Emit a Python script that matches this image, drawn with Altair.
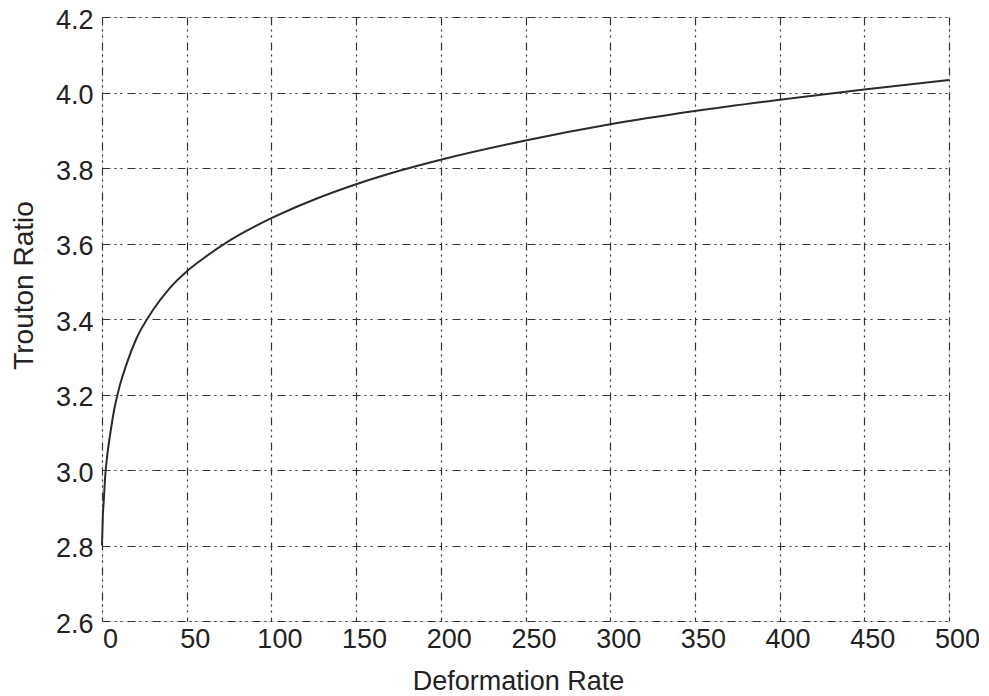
import altair as alt
import pandas as pd

rate = [0, 0.5, 1, 2, 3, 5, 7, 10, 15, 20, 30, 40, 50, 60, 75,
        100, 125, 150, 175, 200, 250, 300, 350, 400, 450, 500]
ratio = [2.80, 2.88, 2.915, 2.99, 3.035, 3.10, 3.155, 3.215, 3.287, 3.345,
         3.423, 3.482, 3.526, 3.561, 3.607, 3.667, 3.716, 3.757, 3.792,
         3.822, 3.873, 3.916, 3.951, 3.981, 4.008, 4.033]
x_ticks = [0, 50, 100, 150, 200, 250, 300, 350, 400, 450, 500]
y_ticks = [2.6, 2.8, 3.0, 3.2, 3.4, 3.6, 3.8, 4.0, 4.2]

df = pd.DataFrame({"rate": rate, "ratio": ratio})

dash = [8, 4, 2, 4, 2, 5]
font = "Liberation Sans"

chart = alt.Chart(df).mark_line(
    color="#2b2b2b", strokeWidth=2, interpolate="monotone"
).encode(
    x=alt.X("rate:Q", scale=alt.Scale(domain=[0, 500], nice=False),
            axis=alt.Axis(values=x_ticks, title="Deformation Rate",
                          grid=True, gridDash=dash, gridColor="#333333",
                          gridOpacity=1, gridWidth=1.2,
                          ticks=False, domain=False,
                          labelFont=font, labelFontSize=27, labelColor="#222222",
                          labelPadding=5, labelFlush=False, labelOffset=8,
                          titleFont=font, titleFontSize=27, titleFontWeight="normal",
                          titleColor="#222222", titlePadding=16, titleX=416)),
    y=alt.Y("ratio:Q", scale=alt.Scale(domain=[2.6, 4.2], nice=False, zero=False),
            axis=alt.Axis(values=y_ticks, format=".1f", title="Trouton Ratio",
                          grid=True, gridDash=dash, gridColor="#333333",
                          gridOpacity=1, gridWidth=1.2,
                          ticks=False, domain=False,
                          labelFont=font, labelFontSize=27, labelColor="#222222",
                          labelPadding=9, labelOffset=3,
                          titleFont=font, titleFontSize=28, titleFontWeight="normal",
                          titleColor="#222222", titlePadding=17, titleY=268)),
).properties(
    width=847, height=604, autosize="none",
    padding={"left": 94, "top": 9, "right": 30, "bottom": 75},
).configure_view(
    stroke="#222222", strokeWidth=1.5
).configure(background="white")

chart.save("out.html", embed_options={"renderer": "svg", "actions": False})
